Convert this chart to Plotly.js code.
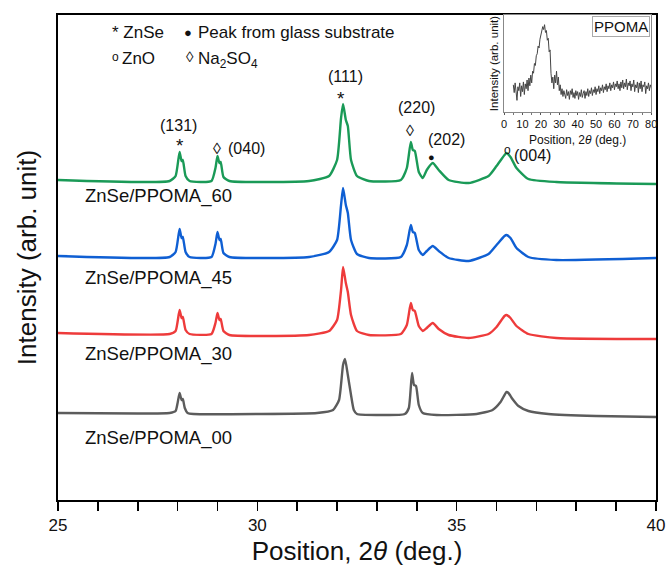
<!DOCTYPE html>
<html><head><meta charset="utf-8">
<script src="https://cdn.plot.ly/plotly-3.0.1.min.js"></script>
<style>html,body{margin:0;padding:0;background:#fff}#plot{width:667px;height:566px}</style>
</head><body><div id="plot"></div>
<script>
// ---- main XRD patterns (2theta, intensity in arbitrary offset units) ----
var pos00 = [25,27.0,27.8,27.95,28.0,28.05,28.1,28.13,28.18,28.25,28.4,30,31.5,31.9,32.05,32.15,32.2,32.27,32.35,32.42,32.5,33.0,33.7,33.8,33.88,33.93,33.98,34.05,34.15,34.5,35.5,35.9,36.1,36.25,36.3,36.4,36.55,36.8,37.3,38.5,40];
var int00 = [87,86.5,87,89,97,107,100,101,92,87,86,86,87,90,100,135,141,125,105,90,86,85,86,92,127,115,114,95,87,85,86,90,98,108,107,101,94,89,86,84,83];

var posGrid = [25,27.8,27.95,28.05,28.1,28.13,28.2,28.3,28.85,28.95,29.0,29.05,29.08,29.15,29.3,31.3,31.8,32.0,32.1,32.15,32.22,32.27,32.35,32.5,32.8,33.6,33.75,33.85,33.9,33.95,34.05,34.15,34.25,34.4,34.55,34.8,35.3,35.8,36.0,36.2,36.25,36.35,36.5,36.8,37.5,40];
var int30 = [167,166,169,190,182,183,170,166,166,177,187,180,181,169,165,165,169,180,210,233,217,208,185,169,165,166,175,197,190,189,174,169,172,177,171,165,162,166,173,184,185,182,174,166,162,161];
var int45 = [244,243,248,271,262,263,248,243,243,256,268,260,261,247,243,243,248,260,295,312,295,287,260,246,242,243,255,275,268,267,250,245,249,254,249,242,239,246,255,264,265,262,252,243,240,242];
var int60 = [320,319,324,348,339,340,324,319,319,332,344,337,338,323,319,319,324,340,382,396,380,374,340,324,319,320,332,358,350,349,328,322,330,337,330,320,317,324,334,345,347,343,332,321,318,316];

var sampleNames = ["ZnSe/PPOMA_00","ZnSe/PPOMA_30","ZnSe/PPOMA_45","ZnSe/PPOMA_60"];
var sampleColors = ["#5c5c5c","#ee3b3b","#0f5fd3","#1a9a57"];

// ---- inset: PPOMA pattern ----
var insetStart = 5, insetStep = 0.5;
var insetInt = [28,20,30,18,12,26,22,30,16,27,21,31,18,29,24,33,22,35,27,38,30,42,40,50,48,58,60,68,66,75,80,84,88,85,90,82,84,74,76,62,64,40,30,36,24,38,30,42,28,36,22,28,18,24,16,22,19,14,23,17,21,13,22,18,24,15,20,14,22,17,21,13,20,16,23,15,19,22,14,21,17,24,16,22,19,25,17,23,20,26,18,24,21,27,19,25,22,28,20,26,23,29,21,27,24,30,22,28,25,31,23,29,26,32,24,29,22,31,25,33,24,30,26,34,23,30,27,32,22,29,26,33,21,28,25,31,20,30,24,32,21,28,26,31,19,27,24,30,22,28,25];
var insetPos = insetInt.map(function(_, i){ return insetStart + i*insetStep; });

var xTicks = [25,30,35,40];
var insetTicks = [0,10,20,30,40,50,60,70,80];

var F = "Liberation Sans, Arial, sans-serif";

function line(x, y, c){
  return {x:x, y:y, type:'scatter', mode:'lines', line:{color:c, width:2.4, shape:'spline', smoothing:0.5}, hoverinfo:'skip', xaxis:'x', yaxis:'y'};
}
var traces = [
  line(pos00, int00, sampleColors[0]),
  line(posGrid, int30, sampleColors[1]),
  line(posGrid, int45, sampleColors[2]),
  line(posGrid, int60, sampleColors[3]),
  {x:insetPos, y:insetInt, type:'scatter', mode:'lines', line:{color:'#444', width:1}, xaxis:'x2', yaxis:'y2', hoverinfo:'skip'}
];

function ann(x, y, t, sz, extra){
  var a = {x:x, y:y, xref:'x', yref:'y', text:t, showarrow:false, font:{family:F, size:sz||16, color:'#111'}};
  for (var k in extra) a[k]=extra[k];
  return a;
}

var annotations = [
  ann(28.02, 375, "(131)"),
  ann(28.06, 355, "*", 19),
  ann(28.99, 352, "◊", 16),
  ann(29.72, 352, "(040)"),
  ann(32.2, 424, "(111)"),
  ann(32.1, 402, "*", 19),
  ann(34.0, 393, "(220)"),
  ann(33.83, 370, "◊", 16),
  ann(34.75, 361, "(202)"),
  ann(34.36, 343, "●", 11),
  ann(36.27, 350, "o", 12),
  ann(36.9, 345, "(004)"),
  // legend-like key
  ann(26.3, 468, "* ZnSe", 17, {xanchor:'left'}),
  ann(28.1, 468, "●", 13, {xanchor:'left'}),
  ann(28.47, 468, "Peak from glass substrate", 17, {xanchor:'left'}),
  ann(26.3, 443, "o", 12, {xanchor:'left'}),
  ann(26.55, 442, "ZnO", 17, {xanchor:'left'}),
  ann(28.15, 444, "◊", 15, {xanchor:'left'}),
  ann(28.47, 442, "Na<sub>2</sub>SO<sub>4</sub>", 17, {xanchor:'left', yanchor:'top', yshift:11}),
  // sample labels
  ann(25.62, 304, sampleNames[3], 18.5, {xanchor:'left'}),
  ann(25.62, 222, sampleNames[2], 18.5, {xanchor:'left'}),
  ann(25.62, 146, sampleNames[1], 18.5, {xanchor:'left'}),
  ann(25.62, 62, sampleNames[0], 18.5, {xanchor:'left'}),
  // inset box label
  {x:0.99, y:0.99, xref:'x2 domain', yref:'y2 domain', xanchor:'right', yanchor:'top', text:'PPOMA', showarrow:false,
   font:{family:F, size:15, color:'#111'}, bordercolor:'#aaa', borderwidth:1, borderpad:1, bgcolor:'#fff'},
  // inset x-axis title
  {x:0.5, y:-0.29, xref:'x2 domain', yref:'y2 domain', xanchor:'center', yanchor:'middle', text:'Position, 2<i>θ</i> (deg.)', showarrow:false,
   font:{family:F, size:12, color:'#111'}}
];

var layout = {
  width:667, height:566,
  margin:{l:58, r:11, t:15, b:66},
  paper_bgcolor:'#fff', plot_bgcolor:'rgba(0,0,0,0)',
  showlegend:false,
  font:{family:F, color:'#111'},
  xaxis:{range:[25,40], domain:[0,1], tickvals:xTicks, ticks:'outside', ticklen:9, tickwidth:1.6, tickcolor:'#000',
    minor:{dtick:1, ticks:'outside', ticklen:9, tickwidth:1.6, tickcolor:'#000'},
    showline:true, linecolor:'#000', linewidth:2, mirror:true, showgrid:false, zeroline:false,
    tickfont:{family:F, size:17, color:'#111'},
    title:{text:'Position, 2<i>θ</i> (deg.)', font:{family:F, size:26, color:'#111'}, standoff:10}},
  yaxis:{range:[0,485], domain:[0,1], showticklabels:false, ticks:'', showline:true, linecolor:'#000', linewidth:2, mirror:true,
    showgrid:false, zeroline:false,
    title:{text:'Intensity (arb. unit)', font:{family:F, size:26, color:'#111'}, standoff:12}},
  xaxis2:{anchor:'y2', domain:[0.746, 0.992], range:[0,80], tickvals:insetTicks, ticks:'outside', ticklen:2, tickwidth:1, tickcolor:'#555',
    minor:{dtick:5, ticks:'outside', ticklen:2, tickcolor:'#777'},
    showline:true, linecolor:'#888', linewidth:1, mirror:true, showgrid:false, zeroline:false,
    tickfont:{family:F, size:11, color:'#111'}},
  yaxis2:{anchor:'x2', domain:[0.8, 1], range:[0,100], showticklabels:false, ticks:'', showline:true, linecolor:'#888', linewidth:1, mirror:true,
    showgrid:false, zeroline:false,
    title:{text:'Intensity (arb. unit)', font:{family:F, size:11.5, color:'#111'}, standoff:2}},
  annotations:annotations
};

Plotly.newPlot('plot', traces, layout, {staticPlot:true, displayModeBar:false});
</script>
</body></html>
